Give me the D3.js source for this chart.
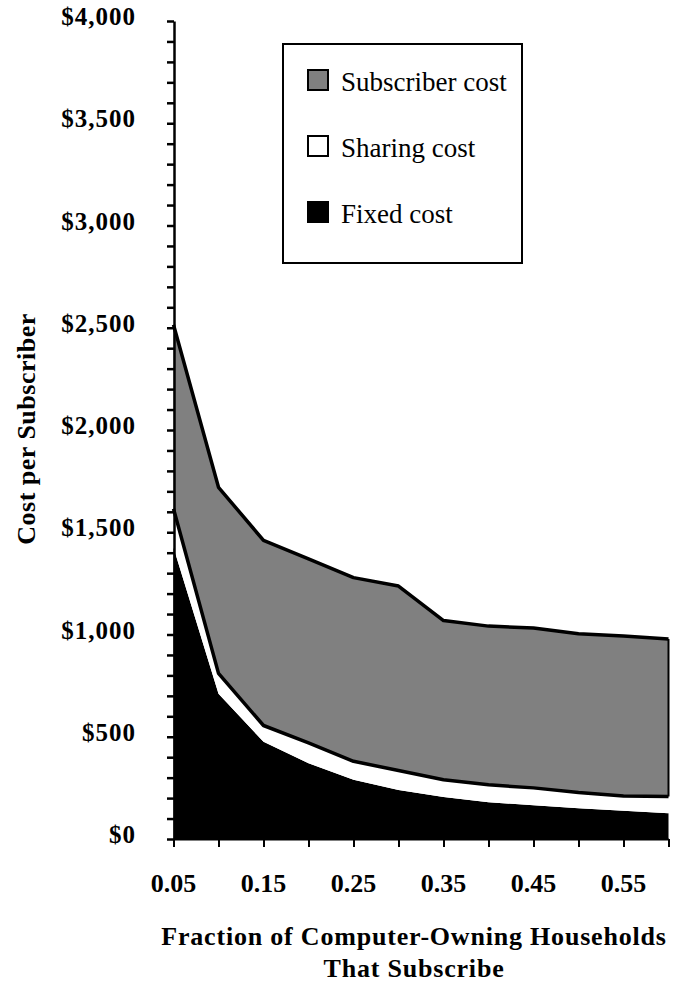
<!DOCTYPE html>
<html>
<head>
<meta charset="utf-8">
<script src="https://cdn.jsdelivr.net/npm/d3@7"></script>
<style>
  body { margin: 0; background: #fff; }
  svg text { font-family: "Liberation Serif", "Times New Roman", serif; fill: #000; }
</style>
</head>
<body>
<svg id="chart" width="678" height="984"></svg>
<script>
// fraction of computer-owning households that subscribe
let fractions = [0.05, 0.10, 0.15, 0.20, 0.25, 0.30, 0.35, 0.40, 0.45, 0.50, 0.55, 0.60];
// cost per subscriber, $ (stacked bottom to top)
let fixedCost      = [1425, 710, 475, 370, 290, 240, 205, 180, 165, 150, 138, 126];
let sharingCost    = [190, 100, 80, 100, 90, 95, 85, 85, 85, 77, 72, 82];
let subscriberCost = [900, 910, 905, 900, 898, 902, 778, 776, 782, 777, 783, 770];

let xLabels = [0.05, 0.15, 0.25, 0.35, 0.45, 0.55];
let yLabels = [0, 500, 1000, 1500, 2000, 2500, 3000, 3500, 4000];
let legendItems = ['Subscriber cost', 'Sharing cost', 'Fixed cost'];
let keys = ['fixed', 'sharing', 'subscriber'];
let colors = { fixed: '#000', sharing: '#fff', subscriber: '#808080' };

let data = fractions.map((f, i) => ({
  f: f,
  fixed: fixedCost[i],
  sharing: sharingCost[i],
  subscriber: subscriberCost[i]
}));

let svg = d3.select('#chart');

let x = d3.scaleLinear().domain([0.05, 0.60]).range([173.5, 668.5]);
let y = d3.scaleLinear().domain([0, 4000]).range([839, 21]);

let series = d3.stack().keys(keys)(data);

let area = d3.area()
  .x(d => x(d.data.f))
  .y0(d => y(d[0]))
  .y1(d => y(d[1]));

svg.append('g')
  .selectAll('path')
  .data(series)
  .join('path')
  .attr('d', area)
  .attr('fill', d => colors[d.key]);

// outlines on top of the sharing and subscriber bands
let topLine = d3.line()
  .x(d => x(d.data.f))
  .y(d => y(d[1]));

svg.append('g')
  .selectAll('path')
  .data(series.slice(1))
  .join('path')
  .attr('d', topLine)
  .attr('fill', 'none')
  .attr('stroke', '#000')
  .attr('stroke-width', 3.5)
  .attr('stroke-linejoin', 'round');

// right edge of the subscriber band
let last = series[2][series[2].length - 1];
svg.append('line')
  .attr('x1', x(last.data.f)).attr('x2', x(last.data.f))
  .attr('y1', y(last[0])).attr('y2', y(last[1]))
  .attr('stroke', '#000')
  .attr('stroke-width', 2);

// y axis
let yAxis = svg.append('g')
  .attr('transform', 'translate(174,0)')
  .call(d3.axisLeft(y)
    .tickValues(d3.range(0, 4001, 100))
    .tickSize(7)
    .tickSizeOuter(0)
    .tickFormat(''));
yAxis.select('.domain').attr('stroke-width', 2.5);
yAxis.selectAll('.tick line').attr('stroke-width', 2.5);

svg.append('g')
  .selectAll('text')
  .data(yLabels)
  .join('text')
  .attr('x', 136)
  .attr('y', d => y(d) + 4)
  .attr('text-anchor', 'end')
  .style('font-size', '25px')
  .style('font-weight', 'bold')
  .style('letter-spacing', '1px')
  .text(d => '$' + d3.format(',')(d));

// x axis
let xAxis = svg.append('g')
  .attr('transform', 'translate(0,839)')
  .call(d3.axisBottom(x)
    .tickValues(fractions)
    .tickSize(8)
    .tickSizeOuter(0)
    .tickFormat(''));
xAxis.select('.domain').attr('stroke-width', 2);
xAxis.selectAll('.tick line').attr('stroke-width', 2);

svg.append('g')
  .selectAll('text')
  .data(xLabels)
  .join('text')
  .attr('x', d => x(d))
  .attr('y', 892)
  .attr('text-anchor', 'middle')
  .style('font-size', '26px')
  .style('font-weight', 'bold')
  .text(d => d.toFixed(2));

// axis titles
svg.append('text')
  .attr('transform', 'translate(35,429) rotate(-90)')
  .attr('text-anchor', 'middle')
  .style('font-size', '26px')
  .style('font-weight', 'bold')
  .style('letter-spacing', '0.5px')
  .text('Cost per Subscriber');

svg.append('text')
  .attr('x', 414)
  .attr('y', 945)
  .attr('text-anchor', 'middle')
  .style('font-size', '26px')
  .style('font-weight', 'bold')
  .style('letter-spacing', '0.8px')
  .text('Fraction of Computer-Owning Households');

svg.append('text')
  .attr('x', 414)
  .attr('y', 977)
  .attr('text-anchor', 'middle')
  .style('font-size', '26px')
  .style('font-weight', 'bold')
  .style('letter-spacing', '0.8px')
  .text('That Subscribe');

// legend
let legend = svg.append('g');
legend.append('rect')
  .attr('x', 283).attr('y', 44)
  .attr('width', 239).attr('height', 219)
  .attr('fill', '#fff')
  .attr('stroke', '#000')
  .attr('stroke-width', 2);

let legendFill = ['#808080', '#fff', '#000'];
let item = legend.selectAll('g.item')
  .data(legendItems)
  .join('g')
  .attr('class', 'item')
  .attr('transform', (d, i) => `translate(307,${69 + i * 66})`);

item.append('rect')
  .attr('x', 1).attr('y', 1)
  .attr('width', 20).attr('height', 20)
  .attr('fill', (d, i) => legendFill[i])
  .attr('stroke', '#000')
  .attr('stroke-width', 2);

item.append('text')
  .attr('x', 34)
  .attr('y', 22)
  .style('font-size', '27px')
  .text(d => d);
</script>
</body>
</html>
